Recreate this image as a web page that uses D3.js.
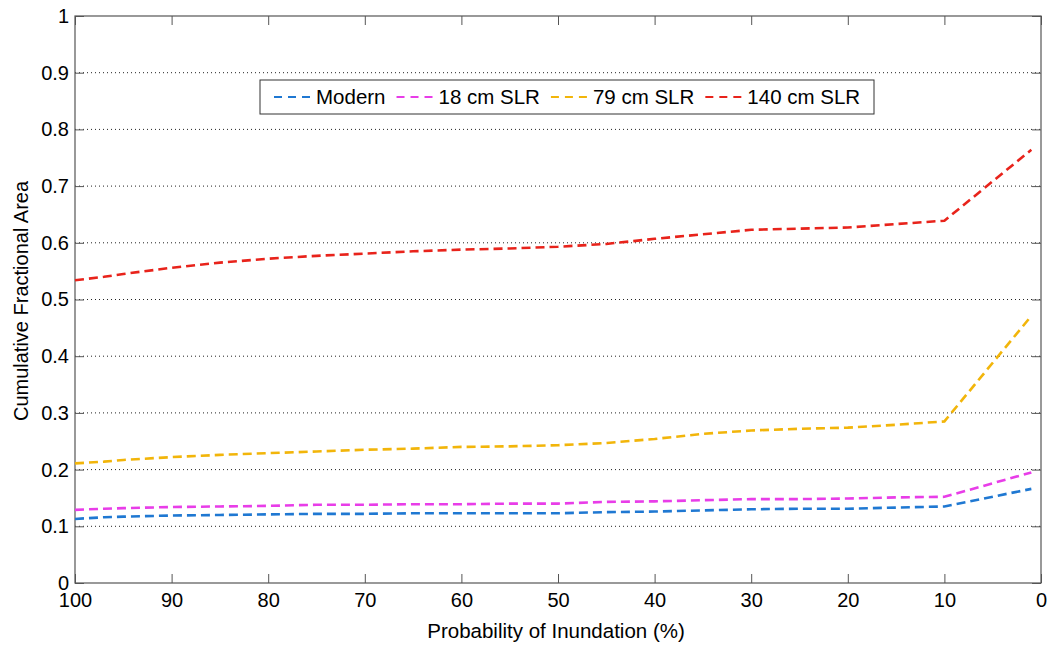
<!DOCTYPE html>
<html>
<head>
<meta charset="utf-8">
<script src="https://cdn.jsdelivr.net/npm/d3@7"></script>
<style>
  body { margin: 0; background: #fff; }
  svg text { font-family: "Liberation Sans", Arial, sans-serif; fill: #000; }
</style>
</head>
<body>
<svg id="chart" width="1049" height="645"></svg>
<script>
// Probability of inundation (%) at which each curve is sampled
const probability = [100, 97, 95, 90, 85, 80, 75, 70, 65, 60, 55, 50, 45, 40, 35, 30, 25, 20, 15, 10, 1];

// Cumulative fractional area for each sea-level-rise scenario
const modern   = [0.113, 0.116, 0.117, 0.119, 0.120, 0.121, 0.122, 0.122, 0.123, 0.123, 0.123, 0.123, 0.125, 0.126, 0.128, 0.130, 0.131, 0.131, 0.133, 0.135, 0.166];
const slr18cm  = [0.129, 0.131, 0.132, 0.134, 0.135, 0.136, 0.138, 0.138, 0.139, 0.139, 0.140, 0.140, 0.143, 0.144, 0.146, 0.148, 0.148, 0.149, 0.151, 0.152, 0.195];
const slr79cm  = [0.211, 0.214, 0.217, 0.222, 0.226, 0.229, 0.232, 0.235, 0.237, 0.240, 0.241, 0.243, 0.247, 0.254, 0.263, 0.269, 0.272, 0.274, 0.279, 0.285, 0.471];
const slr140cm = [0.534, 0.540, 0.545, 0.556, 0.565, 0.572, 0.577, 0.581, 0.585, 0.588, 0.590, 0.593, 0.598, 0.607, 0.615, 0.623, 0.625, 0.627, 0.633, 0.639, 0.764];

const seriesNames  = ["Modern", "18 cm SLR", "79 cm SLR", "140 cm SLR"];
const seriesValues = [modern, slr18cm, slr79cm, slr140cm];
const seriesColors = ["#1f78d2", "#e83de8", "#f2b50a", "#e8231b"];

const xTicks = [100, 90, 80, 70, 60, 50, 40, 30, 20, 10, 0];
const yTicks = [0, 0.1, 0.2, 0.3, 0.4, 0.5, 0.6, 0.7, 0.8, 0.9, 1];
const gridValues = [0.1, 0.2, 0.3, 0.4, 0.5, 0.6, 0.7, 0.8, 0.9];

const plot = { left: 75, right: 1041, top: 16, bottom: 583 };
const axisColor = "#555";

const svg = d3.select("#chart");

const x = d3.scaleLinear().domain([100, 0]).range([plot.left, plot.right]);
const y = d3.scaleLinear().domain([0, 1]).range([plot.bottom, plot.top]);

// Dotted horizontal grid
svg.append("g")
  .selectAll("line")
  .data(gridValues)
  .join("line")
  .attr("x1", plot.left).attr("x2", plot.right)
  .attr("y1", d => y(d)).attr("y2", d => y(d))
  .attr("stroke", "#222")
  .attr("stroke-width", 1)
  .attr("stroke-dasharray", "1,3");

// Axes with inward ticks on all four sides
const fmt = d3.format("~g");
const styleAxis = g => {
  g.select(".domain").remove();
  g.selectAll(".tick line").attr("stroke", axisColor);
  g.selectAll(".tick text").attr("font-size", 20).attr("fill", "#000");
};

svg.append("g")
  .attr("transform", `translate(0,${plot.bottom})`)
  .call(d3.axisBottom(x).tickValues(xTicks).tickFormat(fmt).tickSize(-9).tickPadding(10))
  .call(styleAxis);

svg.append("g")
  .attr("transform", `translate(0,${plot.top})`)
  .call(d3.axisTop(x).tickValues(xTicks).tickFormat("").tickSize(-9))
  .call(styleAxis);

svg.append("g")
  .attr("transform", `translate(${plot.left},0)`)
  .call(d3.axisLeft(y).tickValues(yTicks).tickFormat(fmt).tickSize(-9).tickPadding(6))
  .call(styleAxis);

svg.append("g")
  .attr("transform", `translate(${plot.right},0)`)
  .call(d3.axisRight(y).tickValues(yTicks).tickFormat("").tickSize(-9))
  .call(styleAxis);

// Plot frame
svg.append("rect")
  .attr("x", plot.left).attr("y", plot.top)
  .attr("width", plot.right - plot.left).attr("height", plot.bottom - plot.top)
  .attr("fill", "none")
  .attr("stroke", axisColor)
  .attr("stroke-width", 1.2);

// Dashed series lines
const line = d3.line()
  .x((d, i) => x(probability[i]))
  .y(d => y(d));

svg.append("g")
  .selectAll("path")
  .data(seriesValues)
  .join("path")
  .attr("d", d => line(d))
  .attr("fill", "none")
  .attr("stroke", (d, i) => seriesColors[i])
  .attr("stroke-width", 2.6)
  .attr("stroke-dasharray", "9,5");

// Legend
const legend = { x: 260, y: 80, w: 614, h: 34 };
const lg = svg.append("g");
lg.append("rect")
  .attr("x", legend.x).attr("y", legend.y)
  .attr("width", legend.w).attr("height", legend.h)
  .attr("fill", "#fff")
  .attr("stroke", "#333")
  .attr("stroke-width", 1);

let cursor = legend.x + 14;
const sampleLen = 38;
seriesNames.forEach((name, i) => {
  const cy = legend.y + legend.h / 2;
  lg.append("line")
    .attr("x1", cursor).attr("x2", cursor + sampleLen)
    .attr("y1", cy).attr("y2", cy)
    .attr("stroke", seriesColors[i])
    .attr("stroke-width", 2)
    .attr("stroke-dasharray", "8,6");
  const t = lg.append("text")
    .attr("x", cursor + sampleLen + 4)
    .attr("y", cy)
    .attr("dy", "0.36em")
    .attr("font-size", 20.5)
    .text(name);
  cursor += sampleLen + 4 + t.node().getComputedTextLength() + 11;
});

// Axis titles
svg.append("text")
  .attr("x", 556)
  .attr("y", 638)
  .attr("text-anchor", "middle")
  .attr("font-size", 20.5)
  .text("Probability of Inundation (%)");

svg.append("text")
  .attr("transform", `translate(28,301) rotate(-90)`)
  .attr("text-anchor", "middle")
  .attr("font-size", 20)
  .text("Cumulative Fractional Area");
</script>
</body>
</html>
